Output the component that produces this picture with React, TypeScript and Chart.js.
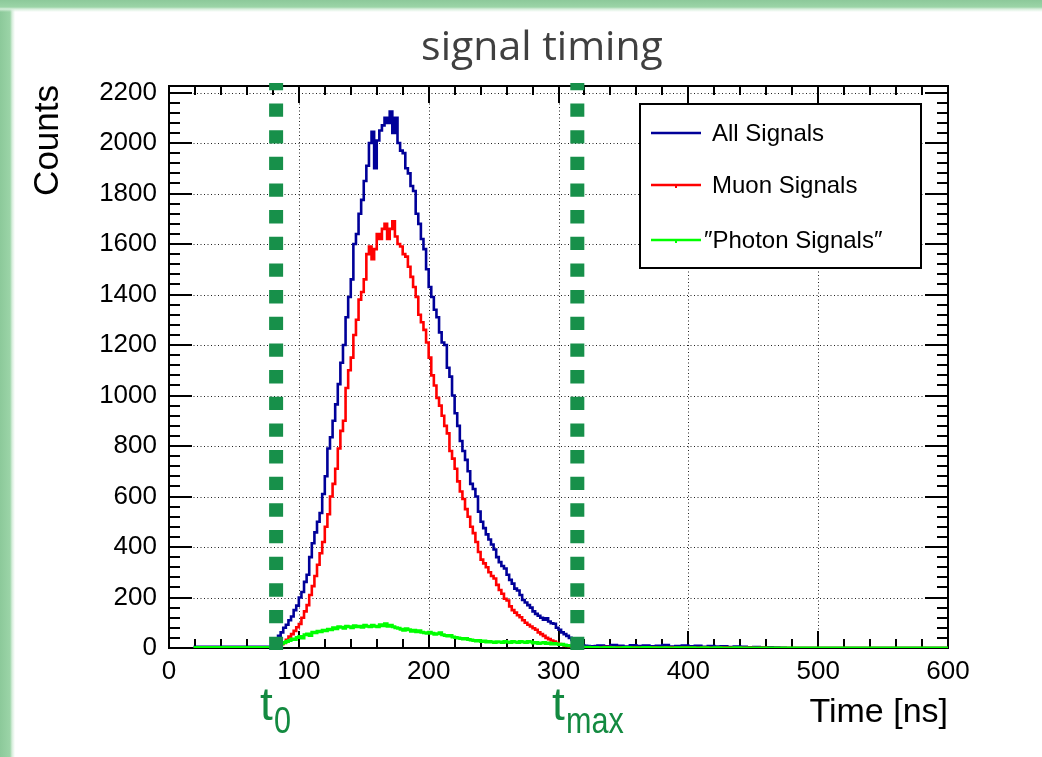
import React, { useEffect, useRef } from 'react';
import { Chart, registerables } from 'chart.js';

Chart.register(...registerables);

// ---- histogram binning (ns) ----
const RANGE_START = 20;
const BIN_START = 80;
const BIN_WIDTH = 2;
const TAIL_START = 330;
const TAIL_WIDTH = 5;
const TAIL_END = 480;
const RANGE_END = 600;

// ---- axis ranges / ticks ----
const X_MIN = 0;
const X_MAX = 600;
const Y_MIN = 0;
const Y_MAX = 2226;
const X_MINOR = 20;
const Y_MINOR = 40;
const xTickLabels = [0, 100, 200, 300, 400, 500, 600];
const yTickLabels = [0, 200, 400, 600, 800, 1000, 1200, 1400, 1600, 1800, 2000, 2200];

// ---- timing cut markers (ns) ----
const T0 = 82.5;
const TMAX = 314.5;

// ---- series: counts per 2 ns bin, bins 80..330 ns ----
const allSignals = [
  5, 20, 35, 48, 62, 80, 92, 110, 125, 150,
  168, 200, 222, 262, 290, 360, 415, 458, 500, 535,
  610, 680, 790, 835, 900, 965, 1045, 1130, 1200, 1310,
  1390, 1460, 1600, 1640, 1720, 1775, 1850, 1910, 2000, 2045,
  1900, 2010, 2050, 2070, 2100, 2080, 2125, 2040, 2100, 2000,
  1970, 1960, 1900, 1880, 1830, 1810, 1720, 1680, 1620, 1580,
  1500, 1430, 1390, 1340, 1310, 1250, 1210, 1200, 1110, 1075,
  1000, 930, 880, 820, 780, 745, 700, 650, 630, 600,
  540, 500, 475, 450, 430, 410, 390, 360, 340, 325,
  315, 290, 270, 255, 235, 228, 210, 190, 180, 170,
  160, 145, 135, 128, 120, 112, 118, 105, 98, 96,
  80, 72, 62, 55, 48, 40, 32, 26, 22, 15,
  10, 9, 8, 6, 7,
];
const muonSignals = [
  0, 3, 6, 10, 15, 20, 32, 45, 55, 68,
  82, 95, 120, 145, 170, 210, 245, 285, 330, 375,
  420, 480, 530, 600, 650, 710, 790, 860, 900, 1030,
  1100, 1150, 1240, 1300, 1380, 1410, 1460, 1560, 1590, 1540,
  1580, 1640, 1620, 1660, 1680, 1620, 1660, 1690, 1630, 1600,
  1590, 1560, 1550, 1510, 1470, 1430, 1390, 1320, 1290, 1260,
  1210, 1150, 1080, 1040, 990, 960, 920, 880, 850, 780,
  750, 710, 660, 620, 590, 550, 520, 480, 455, 420,
  380, 350, 335, 320, 300, 285, 275, 250, 230, 215,
  195, 188, 165, 150, 140, 130, 122, 110, 100, 92,
  85, 78, 72, 62, 55, 48, 40, 35, 30, 26,
  20, 16, 13, 10, 8, 7, 5, 4, 3, 3,
  2, 2, 1, 1, 1,
];
const photonSignals = [
  2, 6, 10, 14, 18, 22, 26, 30, 36, 34,
  42, 46, 40, 52, 55, 50, 62, 60, 66, 64,
  70, 68, 74, 72, 80, 76, 84, 82, 78, 86,
  84, 80, 88, 84, 86, 82, 90, 86, 84, 90,
  86, 84, 92, 88, 96, 86, 90, 84, 80, 78,
  74, 70, 76, 72, 66, 70, 64, 68, 62, 60,
  58, 62, 58, 54, 56, 60, 52, 50, 48, 50,
  44, 42, 40, 38, 36, 38, 34, 32, 30, 28,
  30, 26, 28, 24, 26, 24, 22, 25, 24, 22,
  26, 24, 22, 26, 24, 22, 26, 24, 22, 26,
  24, 20, 22, 18, 20, 22, 18, 20, 16, 18,
  16, 14, 15, 12, 10, 9, 8, 6, 5, 4,
  3, 2, 3, 2, 2,
];
// ---- tails: counts per 5 ns bin, bins 330..480 ns ----
const allTail = [8, 10, 7, 12, 9, 6, 11, 8, 10, 7, 9, 12, 6, 8, 10, 7, 9, 5, 8, 6, 7, 4, 6, 5, 3, 4, 2, 3, 2, 1];
const muonTail = [3, 2, 4, 1, 3, 2, 3, 1, 2, 3, 1, 2, 2, 1, 3, 2, 1, 2, 1, 1, 2, 1, 0, 1, 1, 0, 1, 0, 0, 0];
const photonTail = [2, 1, 2, 1, 1, 2, 1, 1, 2, 1, 1, 1, 0, 1, 1, 1, 0, 1, 0, 1, 0, 0, 1, 0, 0, 0, 0, 0, 0, 0];

const seriesLabels = ['All Signals', 'Muon Signals', '\u2033Photon Signals\u2033'];
const seriesColors = ['#000099', '#ff0000', '#00ff00'];

function toPoints(main: number[], tail: number[]) {
  return [
    { x: RANGE_START, y: 0 },
    ...main.map((v, i) => ({ x: BIN_START + i * BIN_WIDTH, y: v })),
    ...tail.map((v, j) => ({ x: TAIL_START + j * TAIL_WIDTH, y: v })),
    { x: TAIL_END, y: 0 },
    { x: RANGE_END, y: 0 },
  ];
}

const FONT = '"Liberation Sans", Arial, Helvetica, sans-serif';

const rootStyle = {
  id: 'rootStyle',
  beforeDatasetsDraw(chart: any) {
    const { ctx, chartArea: a, scales } = chart;
    const xs = scales.x;
    const ys = scales.y;
    ctx.save();
    // dotted grid
    ctx.strokeStyle = '#222';
    ctx.lineWidth = 1;
    ctx.setLineDash([1, 2.5]);
    xTickLabels.filter((v) => v > X_MIN && v < X_MAX).forEach((v) => {
      const px = Math.round(xs.getPixelForValue(v)) + 0.5;
      ctx.beginPath();
      ctx.moveTo(px, a.top);
      ctx.lineTo(px, a.bottom);
      ctx.stroke();
    });
    yTickLabels.filter((v) => v > Y_MIN && v < Y_MAX).forEach((v) => {
      const py = Math.round(ys.getPixelForValue(v)) + 0.5;
      ctx.beginPath();
      ctx.moveTo(a.left, py);
      ctx.lineTo(a.right, py);
      ctx.stroke();
    });
    ctx.setLineDash([]);
    // frame
    ctx.strokeStyle = '#000';
    ctx.lineWidth = 2;
    ctx.strokeRect(a.left, a.top, a.right - a.left, a.bottom - a.top);
    // ticks
    ctx.beginPath();
    for (let v = X_MIN; v <= X_MAX; v += X_MINOR) {
      const px = Math.round(xs.getPixelForValue(v));
      const len = xTickLabels.includes(v) ? 17 : 9;
      ctx.moveTo(px, a.bottom);
      ctx.lineTo(px, a.bottom - len);
      ctx.moveTo(px, a.top);
      ctx.lineTo(px, a.top + len);
    }
    for (let v = Y_MIN; v <= Y_MAX; v += Y_MINOR) {
      const py = Math.round(ys.getPixelForValue(v));
      const len = yTickLabels.includes(v) ? 23 : 11;
      ctx.moveTo(a.left, py);
      ctx.lineTo(a.left + len, py);
      ctx.moveTo(a.right, py);
      ctx.lineTo(a.right - len, py);
    }
    ctx.stroke();
    ctx.restore();
  },
  afterDatasetsDraw(chart: any) {
    const { ctx, chartArea: a, scales } = chart;
    const xs = scales.x;
    ctx.save();
    // timing cut lines
    ctx.strokeStyle = '#17904a';
    ctx.lineWidth = 14;
    ctx.lineCap = 'butt';
    ctx.setLineDash([13.33, 13.33]);
    [T0, TMAX].forEach((t) => {
      const px = xs.getPixelForValue(t);
      ctx.beginPath();
      ctx.moveTo(px, a.bottom + 2);
      ctx.lineTo(px, a.top - 3);
      ctx.stroke();
    });
    ctx.setLineDash([]);

    // legend
    const lx = 640, ly = 104, lw = 281, lh = 164;
    ctx.fillStyle = '#fff';
    ctx.fillRect(lx, ly, lw, lh);
    ctx.strokeStyle = '#000';
    ctx.lineWidth = 2;
    ctx.strokeRect(lx, ly, lw, lh);
    const rows = [133, 185, 240];
    ctx.font = `24px ${FONT}`;
    ctx.textBaseline = 'middle';
    ctx.textAlign = 'left';
    seriesLabels.forEach((lab, i) => {
      const y = rows[i];
      ctx.strokeStyle = seriesColors[i];
      ctx.lineWidth = 2.3;
      ctx.beginPath();
      ctx.moveTo(651, y);
      ctx.lineTo(701, y);
      ctx.stroke();
      if (i > 0) {
        ctx.fillStyle = seriesColors[i];
        ctx.fillRect(675, y, 2, 3);
      }
      ctx.fillStyle = '#000';
      ctx.fillText(lab, i === 2 ? 704 : 712, y + 1);
    });

    // title
    ctx.fillStyle = '#404040';
    ctx.font = `41px "Open Sans", ${FONT}`;
    ctx.textAlign = 'center';
    ctx.textBaseline = 'alphabetic';
    ctx.fillText('signal timing', 542, 60);

    // axis titles
    ctx.fillStyle = '#000';
    ctx.font = `34px ${FONT}`;
    ctx.textAlign = 'right';
    ctx.fillText('Time [ns]', a.right, 722);
    ctx.save();
    ctx.translate(58, 85);
    ctx.rotate(-Math.PI / 2);
    ctx.textAlign = 'right';
    ctx.font = `35px ${FONT}`;
    ctx.fillText('Counts', 0, 0);
    ctx.restore();

    // t0 / tmax labels
    ctx.fillStyle = '#138a40';
    ctx.textAlign = 'left';
    const drawLabel = (x: number, sub: string) => {
      ctx.font = `46px ${FONT}`;
      ctx.fillText('t', x, 720);
      ctx.save();
      ctx.translate(x + 14, 733);
      ctx.scale(0.85, 1);
      ctx.font = `36px ${FONT}`;
      ctx.fillText(sub, 0, 0);
      ctx.restore();
    };
    drawLabel(260, '0');
    drawLabel(552, 'max');
    ctx.restore();
  },
};

export default function App() {
  const canvasRef = useRef<HTMLCanvasElement | null>(null);

  useEffect(() => {
    if (!canvasRef.current) return;
    const chart = new Chart(canvasRef.current, {
      type: 'line',
      data: {
        datasets: [
          {
            label: seriesLabels[0],
            data: toPoints(allSignals, allTail),
            borderColor: seriesColors[0],
            borderWidth: 2.6,
            stepped: 'after',
            pointRadius: 0,
            fill: false,
            order: 2,
          },
          {
            label: seriesLabels[1],
            data: toPoints(muonSignals, muonTail),
            borderColor: seriesColors[1],
            borderWidth: 2.6,
            stepped: 'after',
            pointRadius: 0,
            fill: false,
            order: 1,
          },
          {
            label: seriesLabels[2],
            data: toPoints(photonSignals, photonTail),
            borderColor: seriesColors[2],
            borderWidth: 3,
            stepped: 'after',
            pointRadius: 0,
            fill: false,
            order: 0,
          },
        ],
      },
      options: {
        responsive: false,
        animation: false,
        devicePixelRatio: 1,
        layout: { padding: { left: 0, right: 94, top: 86, bottom: 0 } },
        plugins: {
          legend: { display: false },
          tooltip: { enabled: false },
          title: { display: false },
        },
        scales: {
          x: {
            type: 'linear',
            min: X_MIN,
            max: X_MAX,
            grid: { display: false, drawTicks: false, tickLength: 0 },
            border: { display: false },
            ticks: {
              color: '#000',
              font: { family: FONT, size: 26 },
              padding: 8,
              maxRotation: 0,
              autoSkip: false,
              callback: (v: any) => String(v),
            },
            afterBuildTicks: (s: any) => {
              s.ticks = xTickLabels.map((v) => ({ value: v }));
            },
            afterFit: (s: any) => {
              s.height = 109;
            },
          },
          y: {
            type: 'linear',
            min: Y_MIN,
            max: Y_MAX,
            grid: { display: false, drawTicks: false, tickLength: 0 },
            border: { display: false },
            ticks: {
              autoSkip: false,
              color: '#000',
              font: { family: FONT, size: 26 },
              padding: 12,
              callback: (v: any) => String(v),
            },
            afterBuildTicks: (s: any) => {
              s.ticks = yTickLabels.map((v) => ({ value: v }));
            },
            afterFit: (s: any) => {
              s.width = 169;
            },
          },
        },
      },
      plugins: [rootStyle],
    });
    return () => chart.destroy();
  }, []);

  return (
    <div style={{ position: 'absolute', left: 0, top: 0, width: 1042, height: 757, background: '#fff', overflow: 'hidden' }}>
      <div
        style={{
          position: 'absolute', left: 0, top: 0, width: 16, height: 757,
          background: 'linear-gradient(to right, #8cc99a 0px, #9bd4a7 10px, #d6eedb 12px, rgba(255,255,255,0) 15px)',
        }}
      />
      <div
        style={{
          position: 'absolute', left: 0, top: 0, width: 1042, height: 12,
          background: 'linear-gradient(to bottom, #8cc99a 0px, #9bd4a7 7px, #d6eedb 9px, rgba(255,255,255,0) 12px)',
        }}
      />
      <canvas ref={canvasRef} width={1042} height={757} style={{ position: 'absolute', left: 0, top: 0 }} />
    </div>
  );
}
